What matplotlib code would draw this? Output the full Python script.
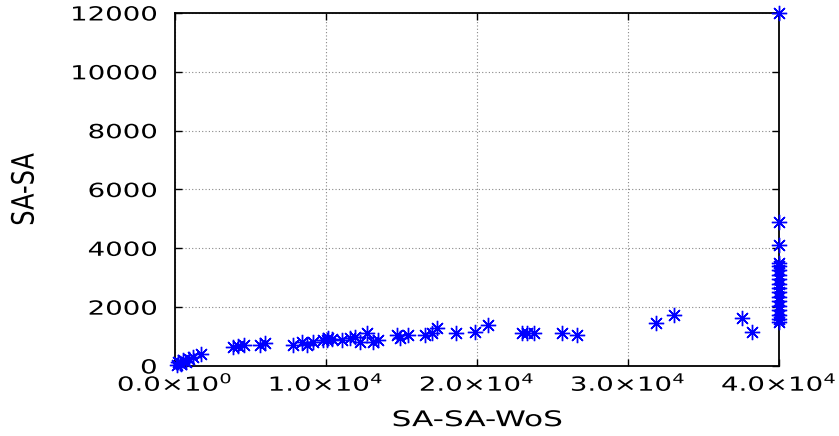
import matplotlib
matplotlib.use("Agg")
import matplotlib.pyplot as plt
from matplotlib.ticker import FixedLocator
from matplotlib.patheffects import AbstractPathEffect
from matplotlib.transforms import Affine2D

# SA-SA-WoS vs SA-SA values
wos_low = [100, 200, 300, 400, 500, 700, 900, 1200, 1700]
sa_low = [50, 150, 100, 80, 200, 120, 250, 300, 410]

wos_mid = [3840, 4170, 4570, 5630, 5960, 7815, 8410, 8740, 9140, 9800,
           10130, 10070, 10400, 11060, 11590, 11920, 12250, 12715, 13110,
           13440, 14700, 14900, 15430, 16560, 17020, 17350, 18610, 19870,
           20730, 22980, 23310, 23775, 25630, 26620, 31850, 33050, 37550,
           38210]
sa_mid = [646, 680, 714, 714, 782, 714, 816, 714, 816, 884,
          952, 884, 918, 884, 952, 986, 816, 1122, 816,
          884, 1054, 952, 1054, 1054, 1122, 1292, 1122, 1156,
          1394, 1122, 1122, 1122, 1122, 1054, 1462, 1734, 1632,
          1156]

wos_cap = [40000] * 18
sa_cap = [12000, 4900, 4100, 3500, 3400, 3250, 3100, 2950, 2800, 2650,
          2500, 2350, 2200, 2050, 1900, 1750, 1600, 1500]

xs = wos_low + wos_mid + wos_cap
ys = sa_low + sa_mid + sa_cap

xticks = [0, 10000, 20000, 30000, 40000]
xticklabels = [r"0.0$\times$10$^{0}$", r"1.0$\times$10$^{4}$", r"2.0$\times$10$^{4}$",
               r"3.0$\times$10$^{4}$", r"4.0$\times$10$^{4}$"]
yticks = [0, 2000, 4000, 6000, 8000, 10000, 12000]


class Stretch(AbstractPathEffect):
    # the reference text is wider than DejaVu, so stretch the glyphs on screen
    def __init__(self, sx=1.0, sy=1.0, anchor='center'):
        super().__init__()
        self.sx, self.sy, self.anchor = sx, sy, anchor

    def draw_path(self, renderer, gc, tpath, affine, rgbFace=None):
        bb = tpath.get_extents(affine)
        cx = bb.x1 if self.anchor == 'right' else (bb.x0 + bb.x1) / 2
        cy = (bb.y0 + bb.y1) / 2
        t = affine + Affine2D().translate(-cx, -cy).scale(self.sx, self.sy).translate(cx, cy)
        renderer.draw_path(gc, tpath, t, rgbFace)


plt.rcParams['font.family'] = ['DejaVu Sans']
plt.rcParams['mathtext.fontset'] = 'dejavusans'

fig = plt.figure(figsize=(8.39, 4.36), dpi=100)
ax = fig.add_axes([0.2086, 0.1606, 0.72, 0.8096])

ax.plot(xs, ys, linestyle='none', marker=(8, 2, 0), markersize=11,
        markeredgewidth=1.0, color='#0000ff', clip_on=False, zorder=3)

ax.set_xlim(0, 40000)
ax.set_ylim(0, 12000)
ax.xaxis.set_major_locator(FixedLocator(xticks))
xl = ax.set_xticklabels(xticklabels)
ax.yaxis.set_major_locator(FixedLocator(yticks))
yl = ax.set_yticklabels([str(v) for v in yticks])

ax.tick_params(direction='in', length=5, width=1, top=True, right=True,
               labelsize=14)
ax.tick_params(axis='x', pad=5)
ax.tick_params(axis='y', pad=13)
for t in xl:
    t.set_path_effects([Stretch(1.42, 1.0, 'center')])
for t in yl:
    t.set_path_effects([Stretch(1.42, 1.0, 'right')])

ax.grid(True, linestyle=(0, (1, 2)), color='#888888', linewidth=0.8)
for s in ax.spines.values():
    s.set_linewidth(1.3)

xlab = ax.set_xlabel('SA-SA-WoS', fontsize=15.5, labelpad=11)
xlab.set_path_effects([Stretch(1.45, 1.0)])
ylab = ax.set_ylabel('SA-SA', fontsize=15.5)
ax.yaxis.set_label_coords(-0.233, 0.5)
ylab.set_path_effects([Stretch(1.43, 1.12)])

fig.savefig('out.png', dpi=100)
